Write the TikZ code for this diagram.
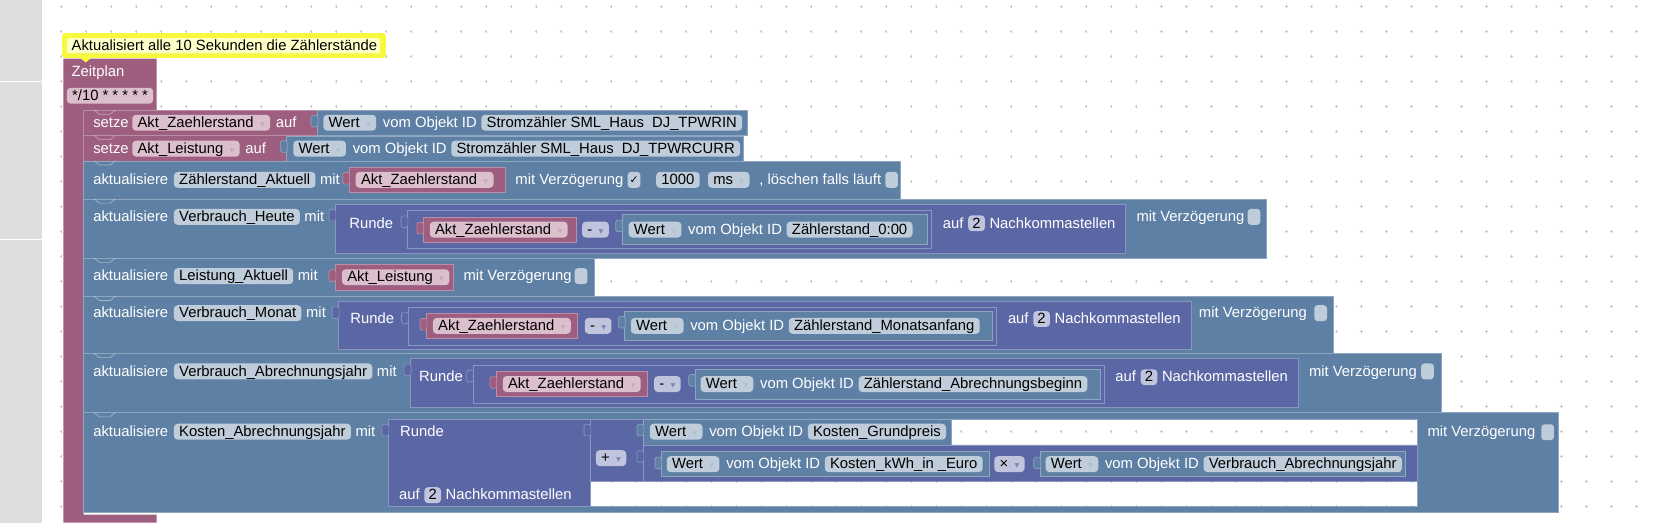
\documentclass[tikz,border=0pt]{standalone}
\usepackage{fontspec}
\setmainfont{Liberation Sans}
\newfontfamily\symfnt{DejaVu Sans}
\usetikzlibrary{positioning}
\definecolor{varpurple}{RGB}{157,94,128}
\definecolor{actblue}{RGB}{95,128,165}
\definecolor{mathblue}{RGB}{91,103,165}
\definecolor{fieldblue}{RGB}{191,205,219}
\definecolor{fieldpurple}{RGB}{220,191,205}
\definecolor{fieldmath}{RGB}{192,196,221}
\definecolor{notegold}{RGB}{248,248,60}
\definecolor{notefill}{RGB}{255,255,200}
\definecolor{panelgray}{RGB}{221,221,221}
\definecolor{gridgray}{RGB}{200,200,200}
\newcommand{\bfnt}{\fontsize{14}{16}\selectfont}
\newcommand{\ddarr}[1]{\hspace{6pt}{\symfnt\fontsize{9}{9}\selectfont\textcolor{#1}{▾}}\hspace{3.5pt}}
\newcommand{\tick}{{\symfnt\fontsize{10}{10}\selectfont ✓}}
\tikzset{
  lbl/.style={anchor=west, inner sep=0pt, text=white, font=\bfnt,
    text height=10.5pt, text depth=1.5pt},
  fld/.style={anchor=west, fill=#1, rounded corners=3.5pt, inner xsep=5pt, inner ysep=0pt,
    minimum height=15pt, text height=10.5pt, text depth=1.5pt, text=black, font=\bfnt},
  fld/.default=fieldblue,
  chk/.style={anchor=west, fill=#1, rounded corners=3pt, inner sep=0pt,
    minimum width=12pt, minimum height=15pt, text=black},
  chk/.default=fieldblue,
  actblk/.style={fill=actblue, draw=actblue!70!white, line width=0.6pt},
  varblk/.style={fill=varpurple, draw=varpurple!70!white, line width=0.6pt},
  mathblk/.style={fill=mathblue, draw=mathblue!70!white, line width=0.6pt},
  vtab/.style={rounded corners=2pt},
  gridmark/.style={draw=gridgray, line width=0.5pt},
  notchln/.style={draw=white, opacity=0.45, line width=0.6pt}
}
\begin{document}
\begin{tikzpicture}[x=1pt, y=-1pt]
  \useasboundingbox (0,0) rectangle (1568,494);
  \fill[white] (0,0) rectangle (1568,494);
  % workspace grid
  \foreach \i in {0,...,64}
    \foreach \j in {0,...,20}
      \draw[gridmark] ({57.7+23.63*\i},{6.3+23.63*\j}) +(-1.3,0) -- +(1.3,0) +(0,-1.3) -- +(0,1.3);
  \fill[panelgray] (0,0) rectangle (40,494);
  \draw[white, line width=0.8pt] (0,76.6) -- (40,76.6) (0,226) -- (40,226);

  % comment
  \fill[notegold, rounded corners=3pt] (58.6,31.2) rectangle (364.8,54.8);
  \fill[notefill, rounded corners=2pt] (63.3,36) rectangle (359,50.5);
  \node[lbl, text=black] (note) at (67.5,43.5) {Aktualisiert alle 10 Sekunden die Zählerstände};

  % Zeitplan
  \fill[varpurple] (60,55.5) -- (148,55.5) -- (148,104) -- (79,104) -- (79,486.5)
    -- (148,486.5) -- (148,494) -- (60,494) -- cycle;
  \fill[notegold] (76,55) -- (81,59) -- (86,55) -- cycle;
  \node[lbl] (hat) at (67.5,68) {Zeitplan};
  \node[fld=fieldpurple] (cron) at (63,90.5) {*/10 * * * * *};

  % setze Akt_Zaehlerstand
  \draw[varblk] (79,104) rectangle (300,128);
  \node[lbl] (s1) at (88,116) {setze};
  \node[fld=fieldpurple, right=3pt of s1] (s1v) {Akt\_Zaehlerstand\ddarr{varpurple!55!white}};
  \node[lbl, right=5pt of s1v] (s1a) {auf};
  \draw[actblk] (300,104.5) rectangle (706,128);
  \draw[actblk, vtab] (300.5,109) rectangle (294,120);
  \node[fld] (w1) at (305.5,116) {Wert\ddarr{actblue!50!white}};
  \node[lbl, right=6pt of w1] (o1) {vom Objekt ID};
  \node[fld, right=4pt of o1] (id1) {Stromzähler SML\_Haus\ \ DJ\_TPWRIN};

  % setze Akt_Leistung
  \draw[varblk] (79,128) rectangle (271,152);
  \node[lbl] (s2) at (88,140.5) {setze};
  \node[fld=fieldpurple, right=3pt of s2] (s2v) {Akt\_Leistung\ddarr{varpurple!55!white}};
  \node[lbl, right=5pt of s2v] (s2a) {auf};
  \draw[actblk] (271,128.5) rectangle (703,152);
  \draw[actblk, vtab] (271.5,133) rectangle (265,144);
  \node[fld] (w2) at (277,140.5) {Wert\ddarr{actblue!50!white}};
  \node[lbl, right=6pt of w2] (o2) {vom Objekt ID};
  \node[fld, right=4pt of o2] (id2) {Stromzähler SML\_Haus\ \ DJ\_TPWRCURR};

  % aktualisiere Zaehlerstand_Aktuell
  \draw[actblk] (79,152) rectangle (851,188);
  \node[lbl] (a3) at (88,170) {aktualisiere};
  \node[fld, right=5pt of a3] (t3) {Zählerstand\_Aktuell};
  \node[lbl, right=4pt of t3] (m3) {mit};
  \draw[varblk] (330,158) rectangle (478,182);
  \draw[varblk, vtab] (330.5,163) rectangle (324,174);
  \node[fld=fieldpurple] (v3) at (336,170) {Akt\_Zaehlerstand\ddarr{varpurple!55!white}};
  \node[lbl] (d3) at (487,170) {mit Verzögerung};
  \node[chk] (c3) at (593,170) {\tick};
  \node[fld] (ms3) at (620,170) {1000};
  \node[fld] (u3) at (669,170) {ms\ddarr{actblue!50!white}};
  \node[lbl] (l3) at (717.5,170) {, löschen falls läuft};
  \node[chk] (k3) at (836.5,170) {};

  % aktualisiere Verbrauch_Heute
  \draw[actblk] (79,188) rectangle (1197,244);
  \node[lbl] (a4) at (88,205) {aktualisiere};
  \node[fld, right=5pt of a4] (t4) {Verbrauch\_Heute};
  \node[lbl, right=4pt of t4] (m4) {mit};
  \draw[mathblk] (317,193) rectangle (1064,239);
  \draw[mathblk, vtab] (317.5,198) rectangle (311,209);
  \node[lbl] (r4) at (330,211) {Runde};
  \draw[mathblk] (385,199) rectangle (880.5,235);
  \draw[mathblk, vtab] (385.5,204) rectangle (379,215);
  \draw[varblk] (400,205) rectangle (545,229);
  \draw[varblk, vtab] (400.5,210) rectangle (394,221);
  \node[fld=fieldpurple] (v4) at (406,217) {Akt\_Zaehlerstand\ddarr{varpurple!55!white}};
  \node[fld=fieldmath] (op4) at (550,217) {-\ddarr{mathblue!80!white}};
  \draw[actblk] (588,203) rectangle (876,231);
  \draw[actblk, vtab] (588.5,208) rectangle (582,219);
  \node[fld] (w4) at (594,217) {Wert\ddarr{actblue!50!white}};
  \node[lbl, right=6pt of w4] (o4) {vom Objekt ID};
  \node[fld, right=4pt of o4] (id4) {Zählerstand\_0:00};
  \node[lbl] (f4) at (891,211) {auf};
  \node[fld=fieldmath, inner xsep=4pt, right=4pt of f4] (n4) {2};
  \node[lbl, right=4pt of n4] (k4) {Nachkommastellen};
  \node[lbl] (d4) at (1074,205) {mit Verzögerung};
  \node[chk] (c4) at (1179,205) {};

  % aktualisiere Leistung_Aktuell
  \draw[actblk] (79,244) rectangle (562,280);
  \node[lbl] (a5) at (88,261) {aktualisiere};
  \node[fld, right=5pt of a5] (t5) {Leistung\_Aktuell};
  \node[lbl, right=4pt of t5] (m5) {mit};
  \draw[varblk] (317,250) rectangle (428,274);
  \draw[varblk, vtab] (317.5,255) rectangle (311,266);
  \node[fld=fieldpurple] (v5) at (323,262) {Akt\_Leistung\ddarr{varpurple!55!white}};
  \node[lbl] (d5) at (438,261) {mit Verzögerung};
  \node[chk] (c5) at (543,261) {};

  % aktualisiere Verbrauch_Monat
  \draw[actblk] (79,280) rectangle (1260,334);
  \node[lbl] (a6) at (88,296) {aktualisiere};
  \node[fld, right=5pt of a6] (t6) {Verbrauch\_Monat};
  \node[lbl, right=4pt of t6] (m6) {mit};
  \draw[mathblk] (320,285) rectangle (1126,330);
  \draw[mathblk, vtab] (320.5,290) rectangle (314,301);
  \node[lbl] (r6) at (331,301.5) {Runde};
  \draw[mathblk] (385.5,290) rectangle (942,326);
  \draw[mathblk, vtab] (386,295) rectangle (379.5,306);
  \draw[varblk] (403,296) rectangle (546,320);
  \draw[varblk, vtab] (403.5,301) rectangle (397,312);
  \node[fld=fieldpurple] (v6) at (409,308) {Akt\_Zaehlerstand\ddarr{varpurple!55!white}};
  \node[fld=fieldmath] (op6) at (552.5,308) {-\ddarr{mathblue!80!white}};
  \draw[actblk] (590.5,294) rectangle (938,322);
  \draw[actblk, vtab] (591,299) rectangle (584.5,310);
  \node[fld] (w6) at (596,308) {Wert\ddarr{actblue!50!white}};
  \node[lbl, right=6pt of w6] (o6) {vom Objekt ID};
  \node[fld, right=4pt of o6] (id6) {Zählerstand\_Monatsanfang};
  \node[lbl] (f6) at (952.5,301.5) {auf};
  \node[fld=fieldmath, inner xsep=4pt, right=4pt of f6] (n6) {2};
  \node[lbl, right=4pt of n6] (k6) {Nachkommastellen};
  \node[lbl] (d6) at (1133,296) {mit Verzögerung};
  \node[chk] (c6) at (1242,296) {};

  % aktualisiere Verbrauch_Abrechnungsjahr
  \draw[actblk] (79,334) rectangle (1362,390);
  \node[lbl] (a7) at (88,351) {aktualisiere};
  \node[fld, right=5pt of a7] (t7) {Verbrauch\_Abrechnungsjahr};
  \node[lbl, right=4pt of t7] (m7) {mit};
  \draw[mathblk] (388,339) rectangle (1227,385);
  \draw[mathblk, vtab] (388.5,344) rectangle (382,355);
  \node[lbl] (r7) at (396,356.5) {Runde};
  \draw[mathblk] (447,345) rectangle (1043.5,381);
  \draw[mathblk, vtab] (447.5,350) rectangle (441,361);
  \draw[varblk] (469,351) rectangle (612,375);
  \draw[varblk, vtab] (469.5,356) rectangle (463,367);
  \node[fld=fieldpurple] (v7) at (475,363) {Akt\_Zaehlerstand\ddarr{varpurple!55!white}};
  \node[fld=fieldmath] (op7) at (618,363) {-\ddarr{mathblue!80!white}};
  \draw[actblk] (657,349) rectangle (1040,377);
  \draw[actblk, vtab] (657.5,354) rectangle (651,365);
  \node[fld] (w7) at (662,363) {Wert\ddarr{actblue!50!white}};
  \node[lbl, right=6pt of w7] (o7) {vom Objekt ID};
  \node[fld, right=4pt of o7] (id7) {Zählerstand\_Abrechnungsbeginn};
  \node[lbl] (f7) at (1054,356.5) {auf};
  \node[fld=fieldmath, inner xsep=4pt, right=4pt of f7] (n7) {2};
  \node[lbl, right=4pt of n7] (k7) {Nachkommastellen};
  \node[lbl] (d7) at (1237,351) {mit Verzögerung};
  \node[chk] (c7) at (1343,351) {};

  % aktualisiere Kosten_Abrechnungsjahr
  \draw[actblk, even odd rule] (79,390) rectangle (1473,484)
    (899.5,396) rectangle (1340,420.5) (558,455) rectangle (1340,479);
  \node[lbl] (a8) at (88,408) {aktualisiere};
  \node[fld, right=5pt of a8] (t8) {Kosten\_Abrechnungsjahr};
  \node[lbl, right=4pt of t8] (m8) {mit};
  \draw[mathblk] (367,396) rectangle (558,479);
  \draw[mathblk, vtab] (367.5,401) rectangle (361,412);
  \node[lbl] (r8) at (378,408.5) {Runde};
  \node[lbl] (f8) at (377,468) {auf};
  \node[fld=fieldmath, inner xsep=4pt, right=4pt of f8] (n8) {2};
  \node[lbl, right=4pt of n8] (k8) {Nachkommastellen};
  \draw[mathblk] (558,396) rectangle (608,455);
  \draw[mathblk, vtab] (558.5,401) rectangle (552,412);
  \node[fld=fieldmath] (op8) at (563,433) {+\ddarr{mathblue!80!white}};
  \draw[actblk] (608,396) rectangle (899.5,420.5);
  \draw[actblk, vtab] (608.5,401) rectangle (602,412);
  \node[fld] (w8a) at (614,408) {Wert\ddarr{actblue!50!white}};
  \node[lbl, right=6pt of w8a] (o8a) {vom Objekt ID};
  \node[fld, right=4pt of o8a] (id8a) {Kosten\_Grundpreis};
  \draw[mathblk] (608,420.5) rectangle (1340,455);
  \draw[mathblk, vtab] (608.5,426) rectangle (602,437);
  \draw[actblk] (625,427) rectangle (935,450.5);
  \draw[actblk, vtab] (625.5,432) rectangle (619,443);
  \node[fld] (w8b) at (630,438.7) {Wert\ddarr{actblue!50!white}};
  \node[lbl, right=6pt of w8b] (o8b) {vom Objekt ID};
  \node[fld, right=4pt of o8b] (id8b) {Kosten\_kWh\_in \_Euro};
  \node[fld=fieldmath] (op8b) at (939.5,438.7) {×\ddarr{mathblue!80!white}};
  \draw[actblk] (983,427) rectangle (1328,450.5);
  \draw[actblk, vtab] (983.5,432) rectangle (977,443);
  \node[fld] (w8c) at (988,438.7) {Wert\ddarr{actblue!50!white}};
  \node[lbl, right=6pt of w8c] (o8c) {vom Objekt ID};
  \node[fld, right=4pt of o8c] (id8c) {Verbrauch\_Abrechnungsjahr};
  \node[lbl] (d8) at (1349,408.5) {mit Verzögerung};
  \node[chk] (c8) at (1456.5,408.5) {};

  % statement notches
  \foreach \t in {104,128,152,188,244,280,334,390}
    \draw[notchln] (89,\t) -- (94,\t+4) -- (104,\t+4) -- (109,\t);
\end{tikzpicture}
\end{document}
